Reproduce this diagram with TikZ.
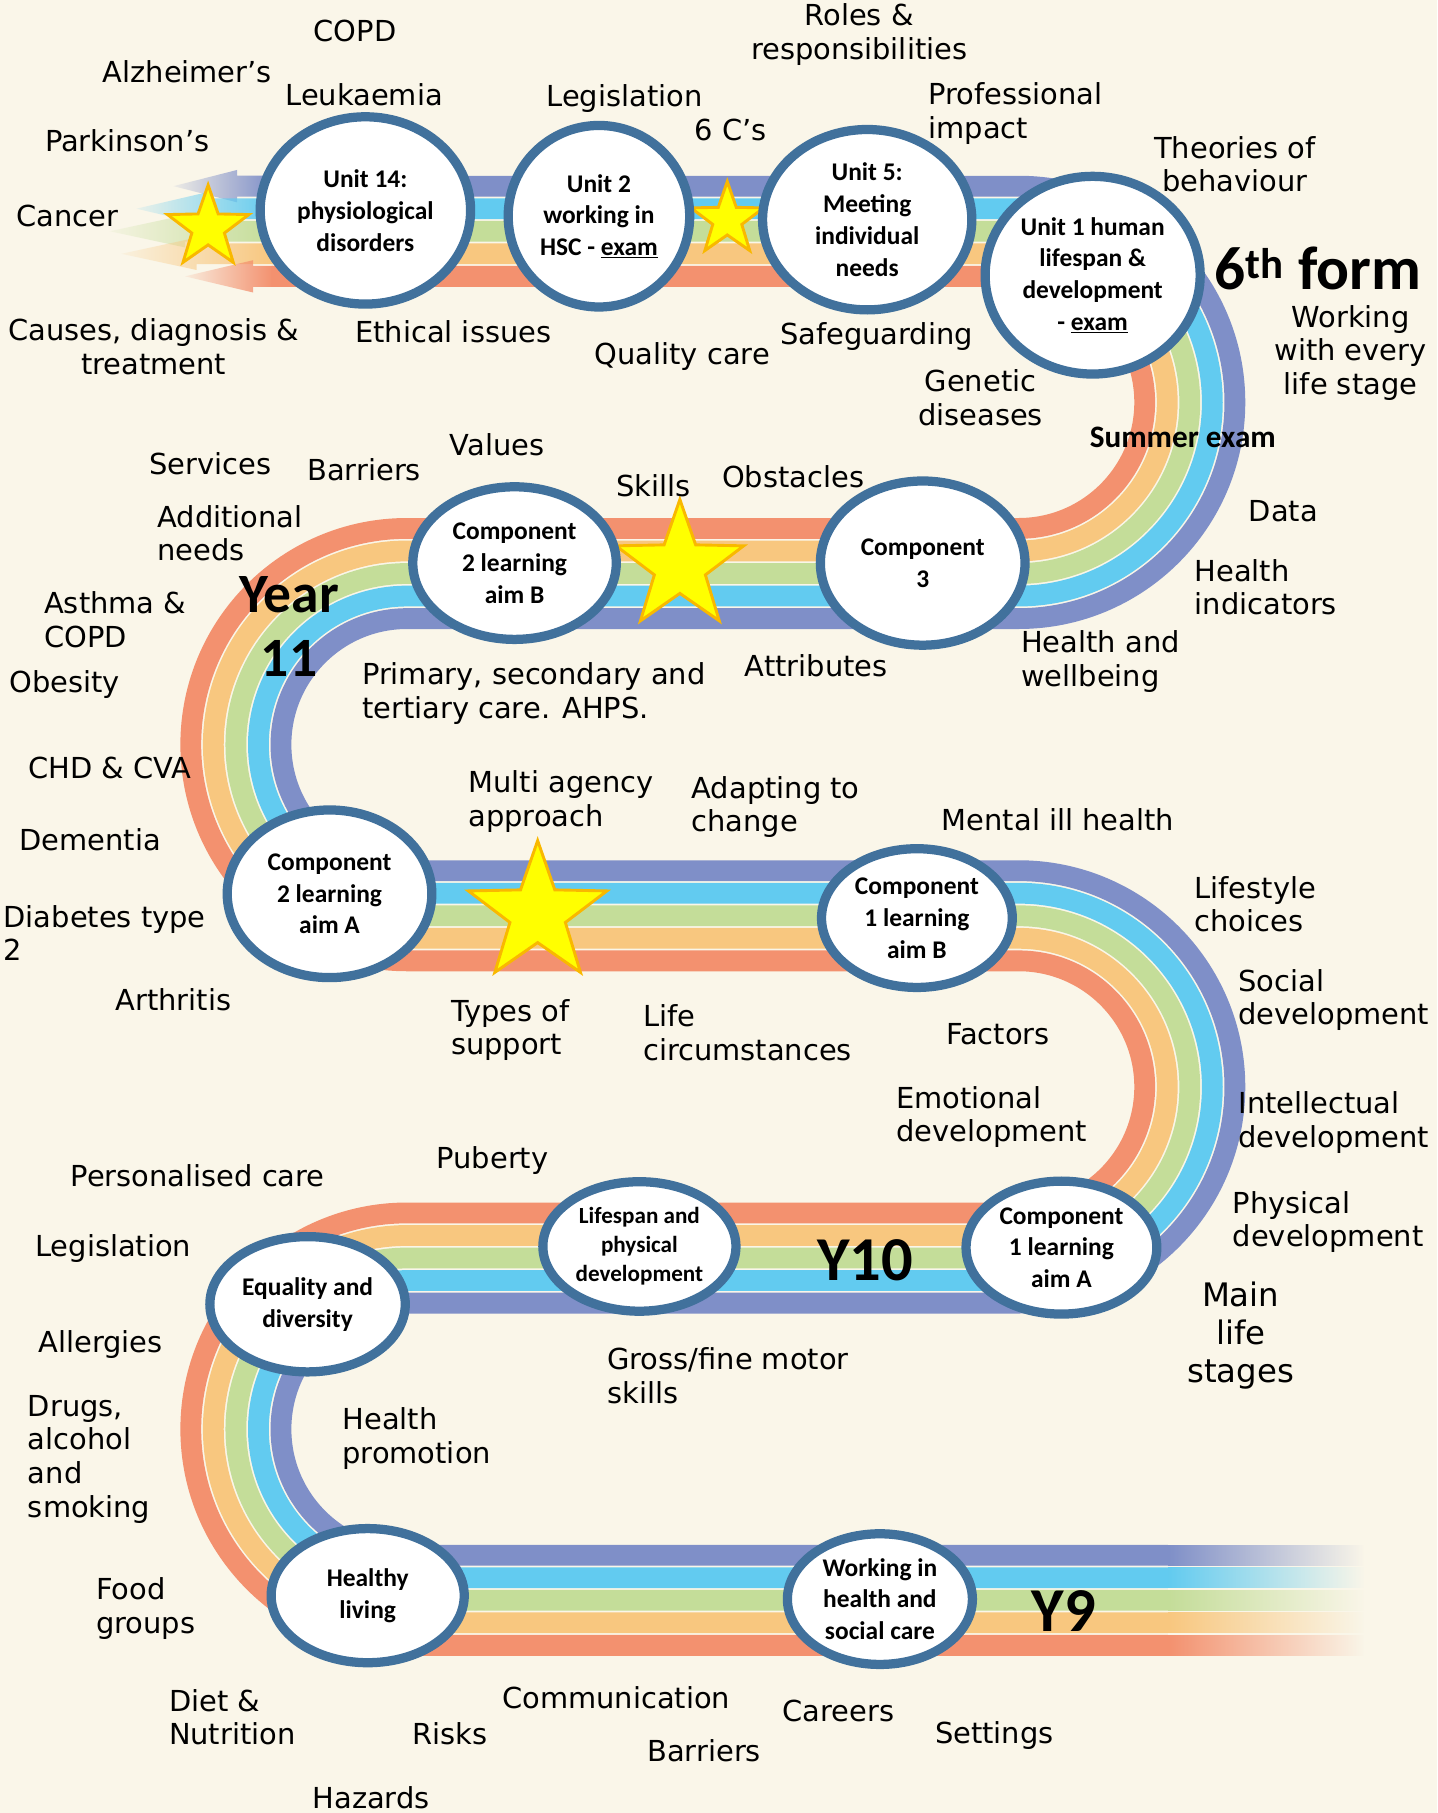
\documentclass[tikz,border=0pt]{standalone}
\usepackage{fontspec}
\setmainfont{DejaVu Sans}
\newfontfamily\calib{Carlito}
\usetikzlibrary{shapes.geometric,fadings}

\definecolor{paper}{HTML}{FAF6E9}
\definecolor{bandred}{HTML}{F3916F}
\definecolor{bandorange}{HTML}{F8C77F}
\definecolor{bandgreen}{HTML}{C4DD99}
\definecolor{bandblue}{HTML}{62CBF0}
\definecolor{bandpurple}{HTML}{7F8FC8}
\definecolor{ringblue}{HTML}{41719C}
\definecolor{starfill}{HTML}{FFFF00}
\definecolor{starline}{HTML}{F9B800}

\tikzfading[name=tailfade, left color=transparent!90, right color=transparent!0]
\tikzfading[name=endfade, left color=transparent!0, right color=transparent!100]

\tikzset{
  band/.style={line width=18pt},
  ring/.style={ellipse, draw=ringblue, line width=8pt, fill=white, inner sep=-4pt,
    align=center, font=\calib\bfseries\fontsize{22}{27.5}\selectfont},
  lbl/.style={inner sep=0pt, align=left, font=\fontsize{25}{29}\selectfont},
  yr/.style={inner sep=0pt, align=center, font=\calib\bfseries\fontsize{54}{54}\selectfont},
  gold/.style={star, star points=5, star point ratio=2.5, fill=starfill,
    draw=starline, line width=2.5pt, inner sep=0pt}
}

\begin{document}
\begin{tikzpicture}[x=1pt,y=-1pt]
\useasboundingbox (0,0) rectangle (1243,1568);
\fill[paper] (0,0) rectangle (1243,1568);

% tails of the road, top left
\fill[bandpurple, path fading=tailfade] (150,161) -- (205,147) -- (205,152) -- (236,152) -- (236,170) -- (205,170) -- (205,175) -- cycle;
\fill[bandblue, path fading=tailfade] (118,180.5) -- (178,166.5) -- (178,171.5) -- (236,171.5) -- (236,189.5) -- (178,189.5) -- (178,194.5) -- cycle;
\fill[bandgreen, path fading=tailfade] (95,200) -- (160,186) -- (160,191) -- (236,191) -- (236,209) -- (160,209) -- (160,214) -- cycle;
\fill[bandorange, path fading=tailfade] (105,219.5) -- (170,205.5) -- (170,210.5) -- (236,210.5) -- (236,228.5) -- (170,228.5) -- (170,233.5) -- cycle;
\fill[bandred, path fading=tailfade] (160,239) -- (219,225) -- (219,230) -- (236,230) -- (236,248) -- (219,248) -- (219,253) -- cycle;

% the road
\draw[band, bandpurple] (235,161) -- (881,161) arc[start angle=-90, end angle=90, radius=187] -- (352,535)
  arc[start angle=270, end angle=90, radius=109] -- (881,753) arc[start angle=-90, end angle=90, radius=187]
  -- (352,1127) arc[start angle=270, end angle=90, radius=109] -- (1010,1345);
\draw[band, bandblue] (235,180.5) -- (881,180.5) arc[start angle=-90, end angle=90, radius=167.5] -- (352,515.5)
  arc[start angle=270, end angle=90, radius=128.5] -- (881,772.5) arc[start angle=-90, end angle=90, radius=167.5]
  -- (352,1107.5) arc[start angle=270, end angle=90, radius=128.5] -- (1010,1364.5);
\draw[band, bandgreen] (235,200) -- (881,200) arc[start angle=-90, end angle=90, radius=148] -- (352,496)
  arc[start angle=270, end angle=90, radius=148] -- (881,792) arc[start angle=-90, end angle=90, radius=148]
  -- (352,1088) arc[start angle=270, end angle=90, radius=148] -- (1010,1384);
\draw[band, bandorange] (235,219.5) -- (881,219.5) arc[start angle=-90, end angle=90, radius=128.5] -- (352,476.5)
  arc[start angle=270, end angle=90, radius=167.5] -- (881,811.5) arc[start angle=-90, end angle=90, radius=128.5]
  -- (352,1068.5) arc[start angle=270, end angle=90, radius=167.5] -- (1010,1403.5);
\draw[band, bandred] (235,239) -- (881,239) arc[start angle=-90, end angle=90, radius=109] -- (352,457)
  arc[start angle=270, end angle=90, radius=187] -- (881,831) arc[start angle=-90, end angle=90, radius=109]
  -- (352,1049) arc[start angle=270, end angle=90, radius=187] -- (1010,1423);

% fading end, bottom right
\fill[bandpurple, path fading=endfade] (1010,1336) rectangle (1180,1354);
\fill[bandblue, path fading=endfade] (1010,1355.5) rectangle (1180,1373.5);
\fill[bandgreen, path fading=endfade] (1010,1375) rectangle (1180,1393);
\fill[bandorange, path fading=endfade] (1010,1394.5) rectangle (1180,1412.5);
\fill[bandred, path fading=endfade] (1010,1414) rectangle (1180,1432);

% stars
\node[gold, minimum size=74pt] (star1) at (180,197) {};
\node[gold, minimum size=66pt] (star2) at (629,190) {};
\node[gold, minimum size=116pt] (star3) at (588,490) {};
\node[gold, minimum size=126pt] (star4) at (465,790) {};

% units
\node[ring, minimum width=182pt, minimum height=162pt] (unit14) at (316,182) {Unit 14:\\physiological\\disorders};
\node[ring, minimum width=157pt, minimum height=157pt] (unit2) at (518,187) {Unit 2\\working in\\HSC - \underline{exam}};
\node[ring, minimum width=181pt, minimum height=156pt] (unit5) at (750,190) {Unit 5:\\Meeting\\individual\\needs};
\node[ring, minimum width=186pt, minimum height=171pt] (unit1) at (945,238) {Unit 1 human\\lifespan \&\\development\\- \underline{exam}};
\node[ring, minimum width=176pt, minimum height=132pt] (comp2b) at (445,487) {Component\\2 learning\\aim B};
\node[ring, minimum width=177pt, minimum height=142pt] (comp3) at (798,487) {Component\\3};
\node[ring, minimum width=177pt, minimum height=145pt] (comp2a) at (285,773) {Component\\2 learning\\aim A};
\node[ring, minimum width=165pt, minimum height=120pt] (comp1b) at (793,794) {Component\\1 learning\\aim B};
\node[ring, minimum width=167pt, minimum height=112pt, font=\calib\bfseries\fontsize{20}{25}\selectfont] (lifespan) at (553,1078) {Lifespan and\\physical\\development};
\node[ring, minimum width=165pt, minimum height=115pt] (comp1a) at (918,1079) {Component\\1 learning\\aim A};
\node[ring, minimum width=169pt, minimum height=117pt] (equality) at (266,1128) {Equality and\\diversity};
\node[ring, minimum width=167pt, minimum height=116pt] (healthy) at (318,1380) {Healthy\\living};
\node[ring, minimum width=160pt, minimum height=113pt] (hsc) at (761,1383) {Working in\\health and\\social care};

%-------------------------------------
% 6th form
\node[lbl] (copd) at (307,27) {COPD};
\node[lbl] (alzheimers) at (162,62) {Alzheimer's};
\node[lbl] (leukaemia) at (315,82) {Leukaemia};
\node[lbl] (parkinsons) at (110,122) {Parkinson's};
\node[lbl] (cancer) at (58,187) {Cancer};
\node[lbl, align=center] (causes) at (133,300) {Causes, diagnosis \&\\treatment};
\node[lbl] (ethical) at (392,287) {Ethical issues};
\node[lbl] (legislation) at (540,85) {Legislation};
\node[lbl] (sixcs) at (632,112) {6 C’s};
\node[lbl, align=center] (roles) at (743,30) {Roles \&\\responsibilities};
\node[lbl, anchor=west] (professional) at (803,98) {Professional\\impact};
\node[lbl, align=center] (theories) at (1068,142) {Theories of\\behaviour};
\node[lbl] (quality) at (590,308) {Quality care};
\node[lbl] (safeguarding) at (758,291) {Safeguarding};
\node[lbl, align=center] (genetic) at (848,344) {Genetic\\diseases};
\node[yr, font=\calib\bfseries\fontsize{53}{53}\selectfont] (sixth) at (1140,232) {6\textsuperscript{th} form};
\node[lbl, align=center] (everystage) at (1168,305) {Working\\with every\\life stage};
\node[yr, font=\calib\bfseries\fontsize{27}{27}\selectfont] (summer) at (1023,378) {Summer exam};

%-------------------------------------
% year 11
\node[lbl] (services) at (182,401) {Services};
\node[lbl] (barriers) at (315,406) {Barriers};
\node[lbl] (values) at (430,385) {Values};
\node[lbl] (skills) at (565,420) {Skills};
\node[lbl] (obstacles) at (686,412) {Obstacles};
\node[lbl, anchor=west] (additional) at (136,461) {Additional\\needs};
\node[yr, font=\calib\bfseries\fontsize{48}{55}\selectfont] (year11) at (250,542) {Year\\11};
\node[lbl, anchor=west] (asthma) at (38,536) {Asthma \&\\COPD};
\node[lbl] (obesity) at (56,592) {Obesity};
\node[lbl, anchor=west] (primary) at (313,600) {Primary, secondary and\\tertiary care. AHPS.};
\node[lbl] (attributes) at (706,576) {Attributes};
\node[lbl] (data) at (1110,442) {Data};
\node[lbl, anchor=west] (indicators) at (1033,508) {Health\\indicators};
\node[lbl, anchor=west] (wellbeing) at (883,572) {Health and\\wellbeing};
\node[lbl] (chd) at (95,664) {CHD \& CVA};
\node[lbl] (dementia) at (78,726) {Dementia};
\node[lbl, anchor=west] (diabetes) at (3,807) {Diabetes type\\2};
\node[lbl] (arthritis) at (150,865) {Arthritis};
\node[lbl, anchor=west] (multiagency) at (405,693) {Multi agency\\approach};
\node[lbl, anchor=west] (adapting) at (598,698) {Adapting to\\change};
\node[lbl] (mental) at (915,709) {Mental ill health};
\node[lbl, anchor=west] (lifestyle) at (1033,782) {Lifestyle\\choices};
\node[lbl, anchor=west] (support) at (390,891) {Types of\\support};
\node[lbl, anchor=west] (circumstances) at (556,893) {Life\\circumstances};
\node[lbl] (factors) at (863,894) {Factors};

%-------------------------------------
% year 10
\node[lbl, anchor=west] (social) at (1071,865) {Social\\development};
\node[lbl, anchor=west] (emotional) at (775,966) {Emotional\\development};
\node[lbl, anchor=west] (intellectual) at (1071,971) {Intellectual\\development};
\node[lbl, anchor=west] (physical) at (1066,1057) {Physical\\development};
\node[lbl, align=center, font=\fontsize{28}{33}\selectfont] (mainstages) at (1073,1155) {Main\\life\\stages};
\node[lbl] (personalised) at (171,1017) {Personalised care};
\node[lbl] (puberty) at (426,1004) {Puberty};
\node[lbl] (legislation2) at (98,1080) {Legislation};
\node[yr] (y10) at (748,1090) {Y10};
\node[lbl] (allergies) at (87,1163) {Allergies};
\node[lbl, anchor=west] (motor) at (525,1190) {Gross/fine motor\\skills};
\node[lbl, anchor=west] (drugs) at (24,1262) {Drugs,\\alcohol\\and\\smoking};
\node[lbl, anchor=west] (promotion) at (296,1244) {Health\\promotion};

%-------------------------------------
% year 9
\node[lbl, anchor=west] (food) at (83,1391) {Food\\groups};
\node[yr] (y9) at (920,1393) {Y9};
\node[lbl, anchor=west] (diet) at (146,1485) {Diet \&\\Nutrition};
\node[lbl] (risks) at (389,1499) {Risks};
\node[lbl] (communication) at (533,1468) {Communication};
\node[lbl] (barriers2) at (609,1514) {Barriers};
\node[lbl] (careers) at (725,1480) {Careers};
\node[lbl] (settings) at (860,1501) {Settings};
\node[lbl] (hazards) at (321,1555) {Hazards};

\end{tikzpicture}
\end{document}
